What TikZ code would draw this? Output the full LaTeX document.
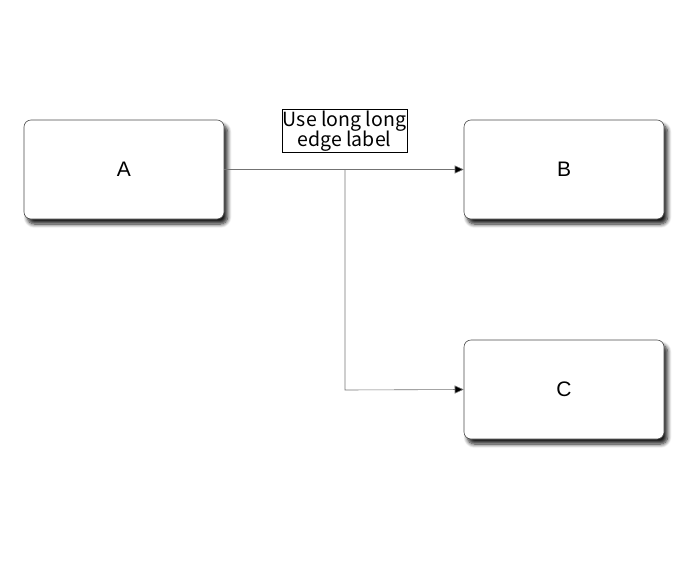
\documentclass[tikz,border=0pt]{standalone}
\usepackage{fontspec}
\setmainfont{Liberation Sans}
\newfontfamily\jpfont{Noto Sans CJK JP}
\usetikzlibrary{shadows.blur,arrows.meta}
\begin{document}
\begin{tikzpicture}[x=1pt,y=-1pt,
  box/.style={draw=black!70, line width=0.6pt, fill=white, rounded corners=7pt,
    minimum width=200pt, minimum height=99pt, inner sep=0pt,
    font=\fontsize{21}{24}\selectfont,
    blur shadow={shadow xshift=3.5pt, shadow yshift=-5pt, shadow blur steps=8, shadow blur radius=4pt, shadow opacity=90}},
  conn/.style={draw=black!55, line width=0.6pt},
  tip/.style={-{Triangle[length=9pt,width=8pt,fill=black]}},
  lbl/.style={draw=black, line width=0.6pt, fill=white, inner sep=1pt, align=center,
    font=\jpfont\fontsize{19.5}{20.5}\selectfont}]
\useasboundingbox (0,0) rectangle (688,560);
\node[box] (A) at (124,169.5) {A};
\node[box] (B) at (564,169.5) {B};
\node[box] (C) at (564,389.5) {C};
\coordinate (J) at (345,170);
\coordinate (K) at (345,390);
\draw[conn,tip] (A.east) -- (B.west);
\draw[conn,tip] (J) -- (K) -- (C.west);
\node[lbl] (L) at (344.5,131) {Use long long\\edge label};
\end{tikzpicture}
\end{document}
